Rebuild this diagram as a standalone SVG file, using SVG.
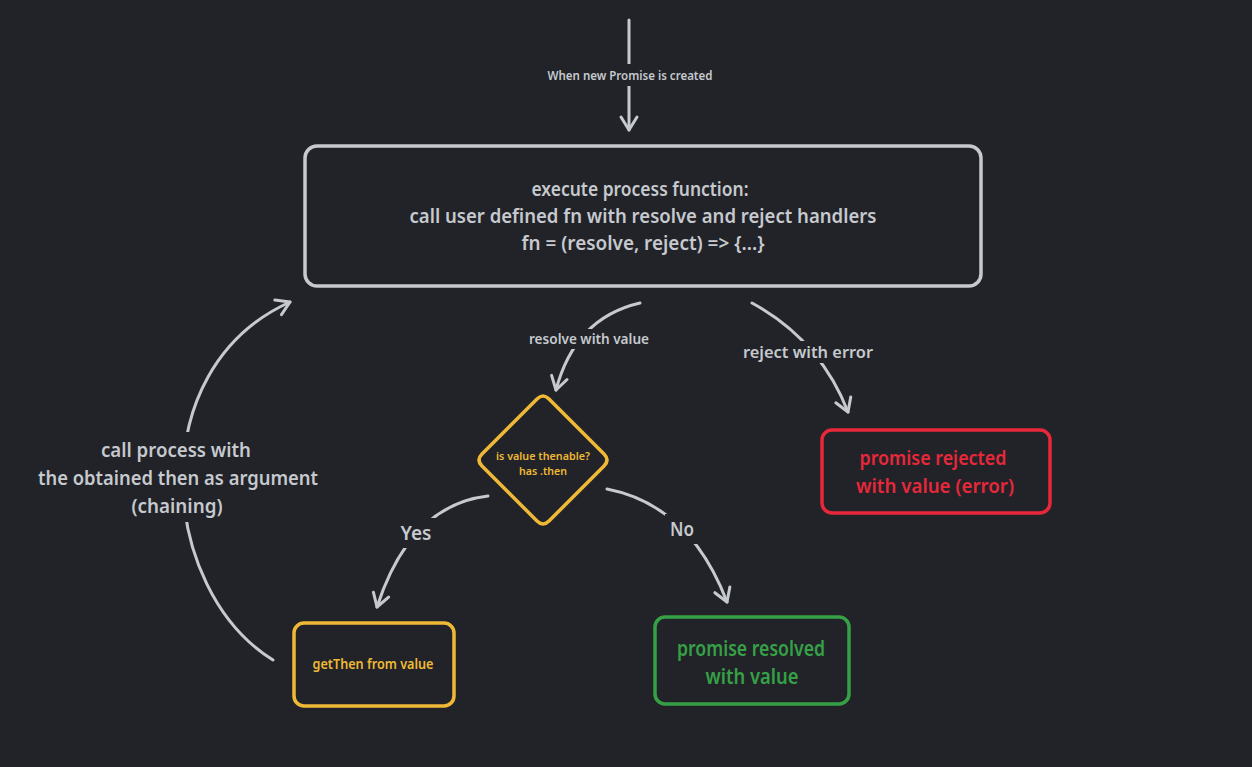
<svg xmlns="http://www.w3.org/2000/svg" width="1252" height="767" viewBox="0 0 1252 767">
<defs>
<marker id="ah" markerUnits="userSpaceOnUse" markerWidth="30" markerHeight="30" viewBox="-20 -15 30 30" refX="0" refY="0" orient="auto">
<path d="M-13,-8 L0,0 L-13,8" fill="none" stroke="#c6c9ce" stroke-width="3" stroke-linecap="round" stroke-linejoin="round"/>
</marker>
<style>
.bg{fill:#212328}
.ln{fill:none;stroke:#c6c9ce;stroke-width:3;stroke-linecap:round}
.t{font-family:"Noto Sans","DejaVu Sans",sans-serif;font-weight:600;text-anchor:middle}
.g{fill:#c6c9ce}
.y{fill:#efb935}
.r{fill:#e8283a}
.gr{fill:#36a046}
.box{fill:#212328;stroke-width:3.5}
</style>
</defs>
<rect class="bg" x="0" y="0" width="1252" height="767"/>

<g id="connectors">
<path class="ln" d="M629,20 L629,130" marker-end="url(#ah)"/>
<rect class="bg" x="545" y="64" width="170" height="22"/>
<text class="t g" x="630" y="80" font-size="13" textLength="165" lengthAdjust="spacingAndGlyphs">When new Promise is created</text>

<path class="ln" d="M640,303 Q575,318 556,390" marker-end="url(#ah)"/>
<rect class="bg" x="526" y="329" width="126" height="20"/>
<text class="t g" x="589" y="344" font-size="15" textLength="120" lengthAdjust="spacingAndGlyphs">resolve with value</text>

<path class="ln" d="M752,303 Q820,340 848,412" marker-end="url(#ah)"/>
<rect class="bg" x="740" y="341" width="136" height="22"/>
<text class="t g" x="808" y="358" font-size="16" textLength="130" lengthAdjust="spacingAndGlyphs">reject with error</text>

<path class="ln" d="M488,496 Q410,505 377,607" marker-end="url(#ah)"/>
<rect class="bg" x="398" y="518" width="38" height="30"/>
<text class="t g" x="416" y="540" font-size="19" textLength="31" lengthAdjust="spacingAndGlyphs">Yes</text>

<path class="ln" d="M607,489 Q690,505 727,602" marker-end="url(#ah)"/>
<rect class="bg" x="665" y="514" width="36" height="30"/>
<text class="t g" x="682" y="536" font-size="19" textLength="24" lengthAdjust="spacingAndGlyphs">No</text>

<path class="ln" d="M273,660 C160,590 140,370 290,302" marker-end="url(#ah)"/>
<rect class="bg" x="35" y="432" width="288" height="90"/>
<text class="t g" x="176" y="457" font-size="20" textLength="150" lengthAdjust="spacingAndGlyphs">call process with</text>
<text class="t g" x="178" y="485" font-size="20" textLength="280" lengthAdjust="spacingAndGlyphs">the obtained then as argument</text>
<text class="t g" x="177" y="513" font-size="20" textLength="91" lengthAdjust="spacingAndGlyphs">(chaining)</text>
</g>

<g id="node-process">
<rect class="box" x="305" y="146" width="676" height="140" rx="12" stroke="#c6c9ce"/>
<text class="t g" x="640" y="196" font-size="20" textLength="217" lengthAdjust="spacingAndGlyphs">execute process function:</text>
<text class="t g" x="643" y="223" font-size="20" textLength="467" lengthAdjust="spacingAndGlyphs">call user defined fn with resolve and reject handlers</text>
<text class="t g" x="643" y="250" font-size="20" textLength="243" lengthAdjust="spacingAndGlyphs">fn = (resolve, reject) => {...}</text>
</g>

<g id="node-thenable">
<path class="box" d="M537,399 Q543,393 549,399 L604,454 Q610,460 604,466 L549,521 Q543,527 537,521 L482,466 Q476,460 482,454 Z" stroke="#efb935"/>
<text class="t y" x="543" y="460" font-size="11.5" textLength="94" lengthAdjust="spacingAndGlyphs">is value thenable?</text>
<text class="t y" x="543" y="475" font-size="11.5" textLength="48" lengthAdjust="spacingAndGlyphs">has .then</text>
</g>

<g id="node-rejected">
<rect class="box" x="822" y="430" width="228" height="83" rx="10" stroke="#e8283a"/>
<text class="t r" x="933" y="465" font-size="20" textLength="147" lengthAdjust="spacingAndGlyphs">promise rejected</text>
<text class="t r" x="935" y="493" font-size="20" textLength="158" lengthAdjust="spacingAndGlyphs">with value (error)</text>
</g>

<g id="node-getthen">
<rect class="box" x="294" y="623" width="160" height="83" rx="10" stroke="#efb935"/>
<text class="t y" x="373" y="669" font-size="14" textLength="121" lengthAdjust="spacingAndGlyphs">getThen from value</text>
</g>

<g id="node-resolved">
<rect class="box" x="655" y="617" width="194" height="87" rx="10" stroke="#36a046"/>
<text class="t gr" x="751" y="656" font-size="21" textLength="148" lengthAdjust="spacingAndGlyphs">promise resolved</text>
<text class="t gr" x="752" y="684" font-size="21" textLength="93" lengthAdjust="spacingAndGlyphs">with value</text>
</g>
</svg>
